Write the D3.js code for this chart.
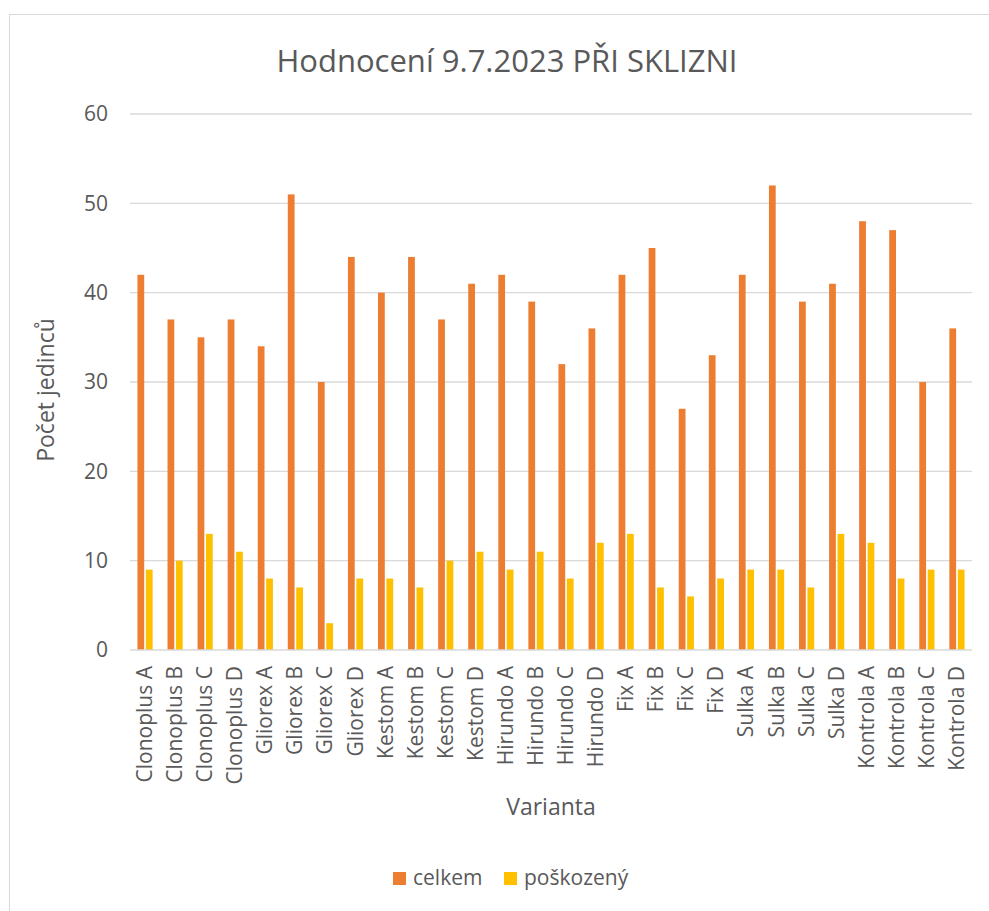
<!DOCTYPE html>
<html>
<head>
<meta charset="utf-8">
<script src="https://cdn.jsdelivr.net/npm/d3@7"></script>
<style>
  html, body { margin: 0; padding: 0; background: #fff; }
  svg { display: block; font-family: "Open Sans", sans-serif; }
</style>
</head>
<body>
<div id="chart"></div>
<script>
const categories = [
  'Clonoplus A', 'Clonoplus B', 'Clonoplus C', 'Clonoplus D',
  'Gliorex A', 'Gliorex B', 'Gliorex C', 'Gliorex D',
  'Kestom A', 'Kestom B', 'Kestom C', 'Kestom D',
  'Hirundo A', 'Hirundo B', 'Hirundo C', 'Hirundo D',
  'Fix A', 'Fix B', 'Fix C', 'Fix D',
  'Sulka A', 'Sulka B', 'Sulka C', 'Sulka D',
  'Kontrola A', 'Kontrola B', 'Kontrola C', 'Kontrola D'
];
const celkem = [42, 37, 35, 37, 34, 51, 30, 44, 40, 44, 37, 41, 42, 39, 32, 36, 42, 45, 27, 33, 42, 52, 39, 41, 48, 47, 30, 36];
const poskozeny = [9, 10, 13, 11, 8, 7, 3, 8, 8, 7, 10, 11, 9, 11, 8, 12, 13, 7, 6, 8, 9, 9, 7, 13, 12, 8, 9, 9];
const yTicks = [0, 10, 20, 30, 40, 50, 60];

const seriesNames = ['celkem', 'poškozený'];
const colors = ['#ED7D31', '#FFC000'];

const W = 989, H = 911;
const margin = { left: 130, right: W - 972, top: 114, bottom: H - 650 };

const svg = d3.select('#chart').append('svg')
  .attr('width', W).attr('height', H);

// chart frame (only top/left visible)
svg.append('rect')
  .attr('x', 9.5).attr('y', 14.5)
  .attr('width', 1100).attr('height', 1100)
  .attr('fill', 'none').attr('stroke', '#D9D9D9').attr('stroke-width', 1);

const x = d3.scaleBand().domain(categories)
  .range([margin.left, W - margin.right]).padding(0);
const y = d3.scaleLinear().domain([0, 60])
  .range([H - margin.bottom, margin.top]);

// gridlines
svg.append('g').selectAll('line')
  .data(yTicks.filter(t => t > 0))
  .join('line')
  .attr('x1', margin.left).attr('x2', W - margin.right)
  .attr('y1', d => y(d)).attr('y2', d => y(d))
  .attr('stroke', '#D9D9D9').attr('stroke-width', 1.3);

// y tick labels
const yAxis = d3.axisLeft(y).tickValues(yTicks).tickSize(0).tickPadding(22);
const gy = svg.append('g').attr('transform', `translate(${margin.left},0)`).call(yAxis);
gy.select('.domain').remove();
gy.selectAll('text').attr('font-size', 21).attr('fill', '#595959')
  .attr('font-family', '"Open Sans", sans-serif');

// bars
const bw = x.bandwidth() * 0.225;
const gap = x.bandwidth() * 0.055;
const series = [celkem, poskozeny];
series.forEach((vals, si) => {
  svg.append('g').selectAll('rect')
    .data(vals)
    .join('rect')
    .attr('x', (d, i) => {
      const c = x(categories[i]) + x.bandwidth() / 2;
      return si === 0 ? c - gap / 2 - bw : c + gap / 2;
    })
    .attr('y', d => y(d))
    .attr('width', bw)
    .attr('height', d => y(0) - y(d))
    .attr('fill', colors[si]);
});

// x axis line
svg.append('line')
  .attr('x1', margin.left).attr('x2', W - margin.right)
  .attr('y1', y(0)).attr('y2', y(0))
  .attr('stroke', '#D9D9D9').attr('stroke-width', 1.5);

// category labels (rotated)
svg.append('g').selectAll('text')
  .data(categories)
  .join('text')
  .attr('transform', d => `translate(${x(d) + x.bandwidth() / 2 + 7},${y(0) + 16}) rotate(-90)`)
  .attr('text-anchor', 'end')
  .attr('font-size', 21)
  .attr('fill', '#595959')
  .text(d => d);

// title
svg.append('text')
  .attr('x', 507).attr('y', 72)
  .attr('text-anchor', 'middle')
  .attr('font-size', 31)
  .attr('fill', '#595959')
  .text('Hodnocení 9.7.2023 PŘI SKLIZNI');

// axis titles
svg.append('text')
  .attr('transform', `translate(54,390) rotate(-90)`)
  .attr('text-anchor', 'middle')
  .attr('font-size', 23)
  .attr('fill', '#595959')
  .text('Počet jedinců');

svg.append('text')
  .attr('x', 551).attr('y', 815)
  .attr('text-anchor', 'middle')
  .attr('font-size', 23)
  .attr('fill', '#595959')
  .text('Varianta');

// legend
const legendX = [393, 504];
const legend = svg.append('g').selectAll('g')
  .data(seriesNames)
  .join('g')
  .attr('transform', (d, i) => `translate(${legendX[i]},872)`);
legend.append('rect')
  .attr('width', 13).attr('height', 13)
  .attr('fill', (d, i) => colors[i]);
legend.append('text')
  .attr('x', 20).attr('y', 13)
  .attr('font-size', 21)
  .attr('fill', '#595959')
  .text(d => d);
</script>
</body>
</html>
